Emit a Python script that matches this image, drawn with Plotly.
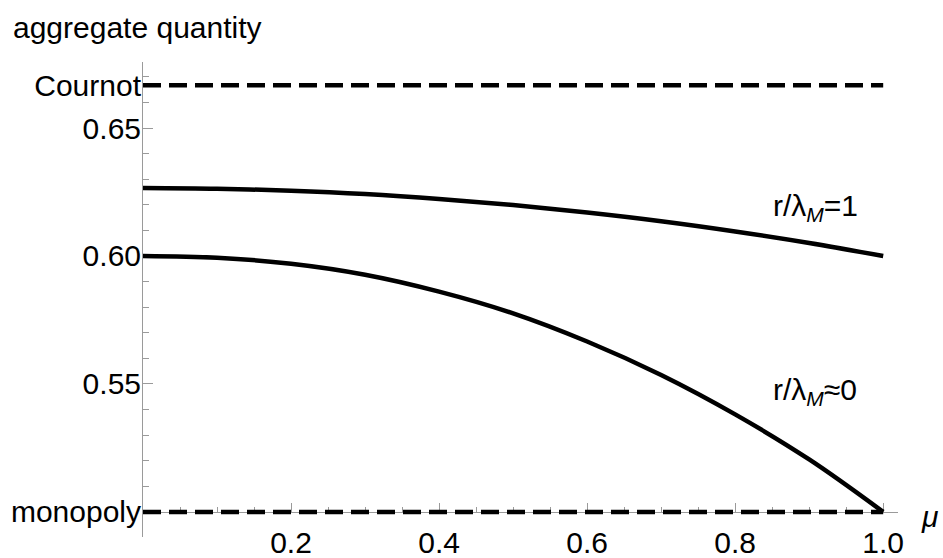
import plotly.graph_objects as go

# ---- data ----
mu = [0.0, 0.1, 0.2, 0.3, 0.4, 0.5, 0.6, 0.7, 0.8, 0.9, 1.0]
q_r1 = [0.6266, 0.6263, 0.6255, 0.6242, 0.6223, 0.6199, 0.6170, 0.6136, 0.6096, 0.6051, 0.6000]
q_r0 = [0.6000, 0.5993, 0.5970, 0.5927, 0.5861, 0.5776, 0.5666, 0.5535, 0.5381, 0.5205, 0.5000]
cournot = 2 / 3
monopoly = 0.5
ref_x = [0.0, 1.0]
ytick_vals = [0.5, 0.55, 0.60, 0.65, 2 / 3]
ytick_text = ["monopoly", "0.55", "0.60", "0.65", "Cournot"]
xtick_vals = [0.2, 0.4, 0.6, 0.8, 1.0]
xtick_text = ["0.2", "0.4", "0.6", "0.8", "1.0"]
label_r1 = "r/λ<sub><i>M</i></sub>=1"
label_r0 = "r/λ<sub><i>M</i></sub>≈0"

FONT = "Liberation Sans, Arial, sans-serif"
AX = "#9a9a9a"
X_RANGE = [0.0, 1.02]
Y_RANGE = [0.4902, 0.6758]

fig = go.Figure()
dash = "18px,8px"
fig.add_trace(go.Scatter(x=ref_x, y=[cournot, cournot], mode="lines",
                         line=dict(color="black", width=4.5, dash=dash), hoverinfo="skip"))
fig.add_trace(go.Scatter(x=ref_x, y=[monopoly, monopoly], mode="lines",
                         line=dict(color="black", width=4.5, dash=dash), hoverinfo="skip"))
fig.add_trace(go.Scatter(x=mu, y=q_r1, mode="lines", line_shape="spline",
                         line=dict(color="black", width=4.5)))
fig.add_trace(go.Scatter(x=mu, y=q_r0, mode="lines", line_shape="spline",
                         line=dict(color="black", width=4.5)))

x_axis_pos = (monopoly - Y_RANGE[0]) / (Y_RANGE[1] - Y_RANGE[0])

PL, PT, PW, PH = 143, 62, 755, 475

fig.update_layout(
    width=943, height=558,
    margin=dict(l=PL, r=943 - PL - PW, t=PT, b=558 - PT - PH, autoexpand=False),
    paper_bgcolor="white", plot_bgcolor="white",
    showlegend=False,
    font=dict(family=FONT, size=30, color="black"),
    title=dict(text="aggregate quantity", x=13 / 943, xanchor="left", xref="container",
               y=1 - 27 / 558, yanchor="middle", yref="container",
               font=dict(family=FONT, size=30, color="black"), automargin=False),
    xaxis=dict(range=X_RANGE, showgrid=False, zeroline=False, showline=True,
               linecolor=AX, linewidth=1, anchor="free", position=x_axis_pos,
               automargin=False,
               tickvals=xtick_vals, ticktext=xtick_text, ticks="inside", ticklen=9,
               tickcolor=AX, tickwidth=1, ticklabelstandoff=4, layer="below traces",
               minor=dict(tick0=0, dtick=0.05, ticks="inside", ticklen=5, tickcolor=AX),
               tickfont=dict(family=FONT, size=30, color="black")),
    yaxis=dict(range=Y_RANGE, showgrid=False, zeroline=False, showline=True,
               linecolor=AX, linewidth=1, automargin=False,
               tickvals=ytick_vals, ticktext=ytick_text, ticks="inside", ticklen=10,
               tickcolor=AX, tickwidth=1, ticklabelstandoff=-5, layer="below traces",
               minor=dict(tick0=0, dtick=0.01, ticks="inside", ticklen=6, tickcolor=AX),
               tickfont=dict(family=FONT, size=30, color="black")),
)

fig.add_annotation(x=0.908, y=0.6191, xref="x", yref="y", text=label_r1, showarrow=False,
                   font=dict(family=FONT, size=30, color="black"))
fig.add_annotation(x=0.908, y=0.5469, xref="x", yref="y", text=label_r0, showarrow=False,
                   font=dict(family=FONT, size=30, color="black"))
fig.add_annotation(x=(919 - PL) / PW, y=(PT + PH - 535) / PH, xref="paper", yref="paper",
                   xanchor="left", text="<i>μ</i>", showarrow=False,
                   font=dict(family=FONT, size=30, color="black"))

fig.write_html("out.html", config={"displayModeBar": False},
               post_script="document.body.style.margin='0';")
